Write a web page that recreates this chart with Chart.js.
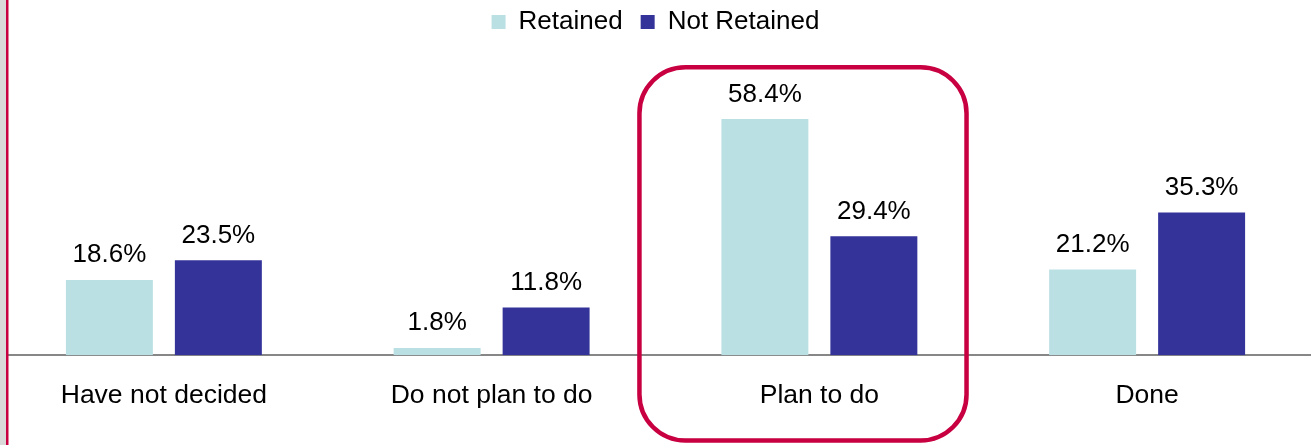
<!DOCTYPE html>
<html>
<head>
<meta charset="utf-8">
<script src="https://cdn.jsdelivr.net/npm/chart.js@4/dist/chart.umd.min.js"></script>
<style>
  html, body { margin: 0; padding: 0; background: #ffffff; }
  #wrap { position: relative; width: 1311px; height: 445px; }
</style>
</head>
<body>
<div id="wrap"><canvas id="c" width="1311" height="445"></canvas></div>
<script>
// Survey answers by group
const categories = ['Have not decided', 'Do not plan to do', 'Plan to do', 'Done'];
const retained = [18.6, 1.8, 58.4, 21.2];
const notRetained = [23.5, 11.8, 29.4, 35.3];
const seriesNames = ['Retained', 'Not Retained'];
const highlightIndex = 2;

const FONT = '"Liberation Sans", Arial, sans-serif';
const ACCENT = '#c80041';

// Percentage labels above each bar
const valueLabels = {
  id: 'valueLabels',
  afterDatasetsDraw(chart) {
    const ctx = chart.ctx;
    ctx.save();
    ctx.fillStyle = '#000000';
    ctx.font = '26px ' + FONT;
    ctx.textAlign = 'center';
    ctx.textBaseline = 'alphabetic';
    chart.data.datasets.forEach((ds, di) => {
      const meta = chart.getDatasetMeta(di);
      meta.data.forEach((bar, i) => {
        ctx.fillText(ds.data[i].toFixed(1) + '%', bar.x, bar.y - 17.5);
      });
    });
    ctx.restore();
  }
};

// Rounded frame around the highlighted category, plus the page's left rule
const frame = {
  id: 'frame',
  afterDraw(chart) {
    const ctx = chart.ctx;
    const xs = chart.scales.x, ys = chart.scales.y;
    const cw = xs.getPixelForValue(1) - xs.getPixelForValue(0);
    const cx = xs.getPixelForValue(highlightIndex);
    const left = cx - 0.549 * cw;
    const right = cx + 0.449 * cw;
    const top = ys.getPixelForValue(71.2);
    const bottom = chart.height - 4.5;
    ctx.save();
    ctx.strokeStyle = ACCENT;
    ctx.lineWidth = 4.5;
    ctx.beginPath();
    ctx.roundRect(left, top, right - left, bottom - top, 46);
    ctx.stroke();
    // left margin strip and rule
    ctx.fillStyle = '#d9d9d9';
    ctx.fillRect(0, 0, 6, chart.height);
    ctx.fillStyle = ACCENT;
    ctx.fillRect(6, 0, 2.5, chart.height);
    ctx.restore();
  }
};

new Chart(document.getElementById('c'), {
  type: 'bar',
  data: {
    labels: categories,
    datasets: [
      { label: seriesNames[0], data: retained, backgroundColor: '#bae0e3', borderWidth: 0 },
      { label: seriesNames[1], data: notRetained, backgroundColor: '#333399', borderWidth: 0 }
    ]
  },
  options: {
    responsive: false,
    animation: false,
    devicePixelRatio: 1,
    layout: { padding: { left: 0, right: 0, top: -9, bottom: 8 } },
    datasets: { bar: { categoryPercentage: 0.665, barPercentage: 0.798 } },
    plugins: {
      legend: {
        display: true,
        position: 'top',
        labels: {
          color: '#000000',
          font: { family: FONT, size: 26 },
          boxWidth: 14,
          boxHeight: 14,
          padding: 18
        }
      },
      tooltip: { enabled: false }
    },
    scales: {
      x: {
        grid: { display: false, drawTicks: false },
        border: { display: true, color: '#878787', width: 2 },
        ticks: {
          color: '#000000',
          font: { family: FONT, size: 26.5 },
          padding: 25,
          maxRotation: 0,
          autoSkip: false
        }
      },
      y: {
        display: false,
        min: 0,
        max: 76.7
      }
    }
  },
  plugins: [valueLabels, frame]
});
</script>
</body>
</html>
